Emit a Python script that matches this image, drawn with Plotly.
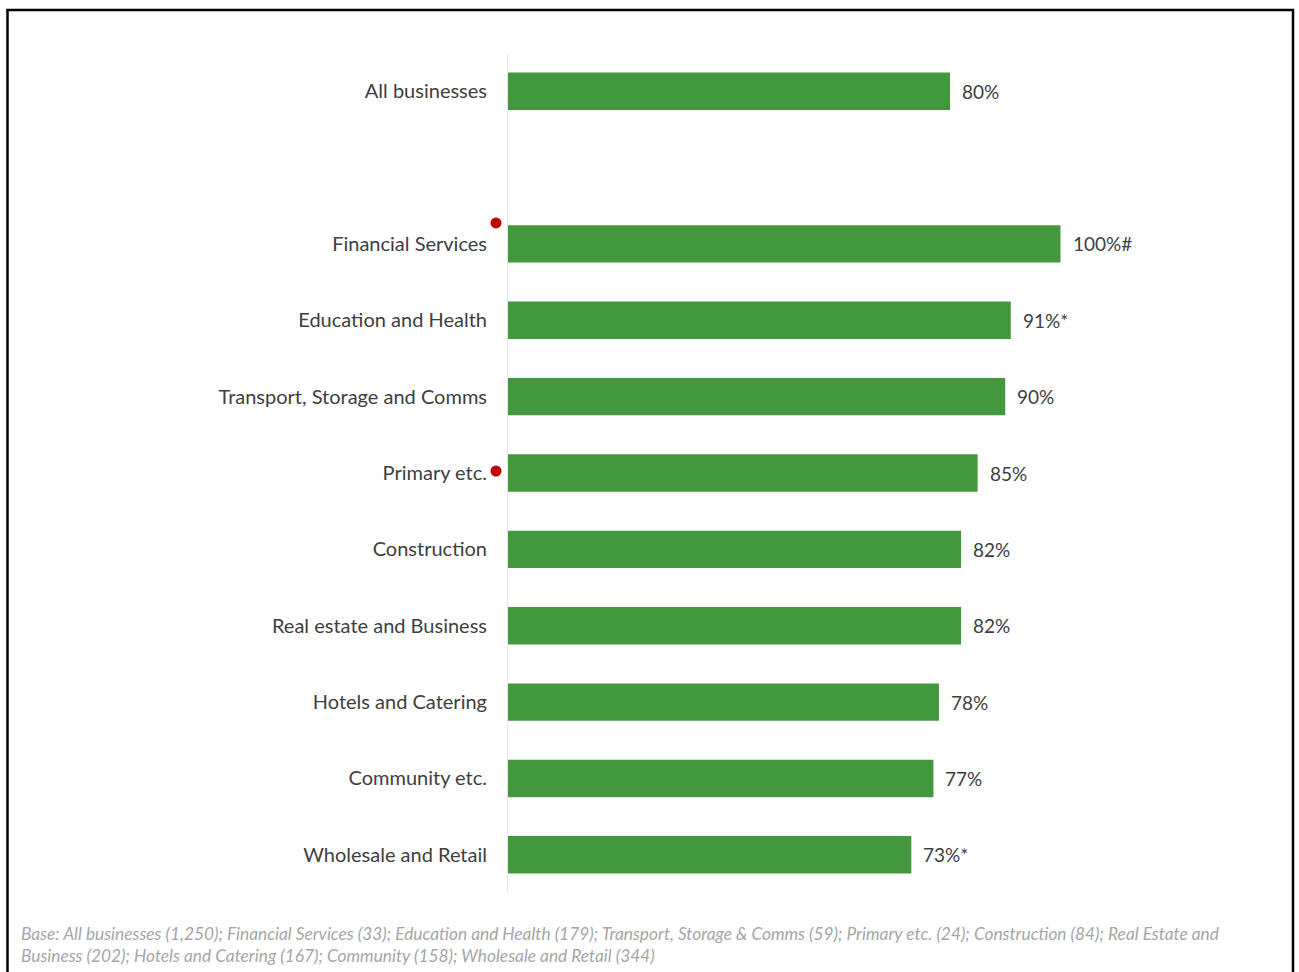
import plotly.graph_objects as go

# Share of businesses by sector (percent)
categories = [
    "All businesses",
    " ",
    "Financial Services",
    "Education and Health",
    "Transport, Storage and Comms",
    "Primary etc.",
    "Construction",
    "Real estate and Business",
    "Hotels and Catering",
    "Community etc.",
    "Wholesale and Retail",
]
values = [80, None, 100, 91, 90, 85, 82, 82, 78, 77, 73]
value_labels = ["80%", "", "100%#", "91%*", "90%", "85%", "82%", "82%", "78%", "77%", "73%*"]
flagged = ["Financial Services", "Primary etc."]

footnote = (
    "Base: All businesses (1,250); Financial Services (33); Education and Health (179); "
    "Transport, Storage & Comms (59); Primary etc. (24); Construction (84); Real Estate and<br>"
    "Business (202); Hotels and Catering (167); Community (158); Wholesale and Retail (344)"
)

GREEN = "#43973c"
TEXT = "#404040"
FONT = "Lato"

W, H = 1299, 972
M_L, M_R, M_T, M_B = 508, 49, 53, 79
PW = W - M_L - M_R
PH = H - M_T - M_B


def px_x(px):
    return (px - M_L) / PW


def px_y(py):
    return (H - M_B - py) / PH


fig = go.Figure()
fig.add_trace(go.Bar(
    y=categories,
    x=values,
    orientation="h",
    marker=dict(color=GREEN, line=dict(width=0)),
    width=0.49,
    hoverinfo="skip",
))

annotations = []
for cat, v, lab in zip(categories, values, value_labels):
    if v is None:
        continue
    annotations.append(dict(
        x=v, y=cat, xref="x", yref="y", text=lab, showarrow=False,
        xanchor="left", yanchor="middle", xshift=10,
        font=dict(family=FONT, size=19, color=TEXT),
    ))

annotations.append(dict(
    x=px_x(19), y=px_y(921), xref="paper", yref="paper", text=footnote,
    showarrow=False, xanchor="left", yanchor="top", align="left",
    font=dict(family=FONT, size=17.3, color="#a6a6a6", style="italic"),
))

# Red markers beside flagged sectors
n = len(categories)
slot = PH / n
shapes = []
dot_offsets = {"Financial Services": -21, "Primary etc.": -2}
for cat in flagged:
    idx = categories.index(cat)
    cy = M_T + slot * (idx + 0.5) + dot_offsets[cat]
    cx = 496
    r = 5.5
    shapes.append(dict(
        type="circle", xref="paper", yref="paper",
        x0=px_x(cx - r), x1=px_x(cx + r), y0=px_y(cy + r), y1=px_y(cy - r),
        fillcolor="#c00000", line=dict(width=0),
    ))

# Outer frame
shapes.append(dict(
    type="rect", xref="paper", yref="paper",
    x0=px_x(7.5), x1=px_x(1293), y0=px_y(990), y1=px_y(10),
    line=dict(color="#000000", width=2.5), fillcolor="rgba(0,0,0,0)",
))

fig.update_layout(
    width=W, height=H,
    margin=dict(l=M_L, r=M_R, t=M_T, b=M_B, pad=0),
    paper_bgcolor="white", plot_bgcolor="white",
    showlegend=False,
    bargap=0.5,
    annotations=annotations,
    shapes=shapes,
    xaxis=dict(range=[0, PW / 5.525], visible=False, showgrid=False, zeroline=False),
    yaxis=dict(
        type="category",
        categoryorder="array", categoryarray=categories,
        autorange="reversed",
        showgrid=False, zeroline=False,
        showline=True, linecolor="#e8e8e8", linewidth=1,
        ticks="", ticklabelstandoff=16,
        tickfont=dict(family=FONT, size=20, color=TEXT),
    ),
)

fig.write_html("out.html")
